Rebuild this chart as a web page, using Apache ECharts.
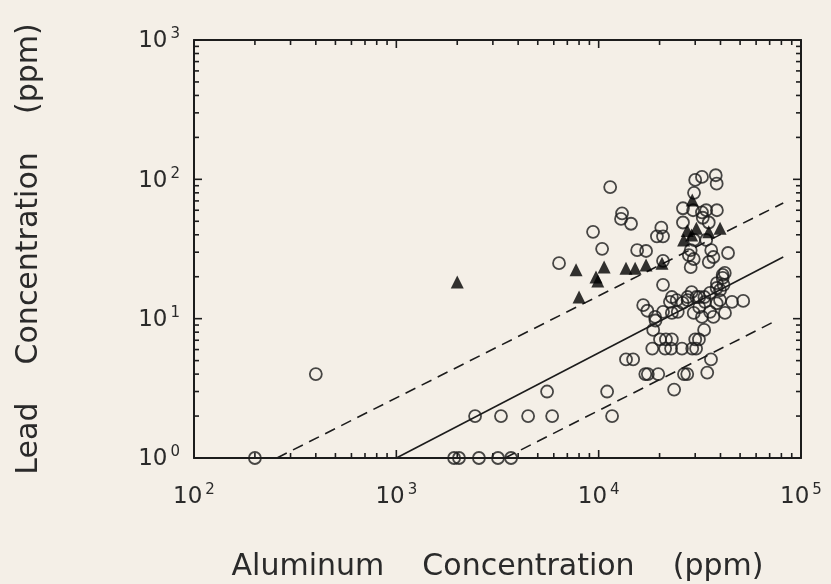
<!DOCTYPE html>
<html><head><meta charset="utf-8">
<script src="https://cdn.jsdelivr.net/npm/echarts@6/dist/echarts.min.js"></script>
<style>html,body{margin:0;padding:0;background:#f4efe7}#c{width:831px;height:584px}</style>
</head><body><div id="c"></div><script>
// Aluminum (ppm) vs Lead (ppm)
const openCircles = [
  [200,1],[400,4],[1930,1],[2040,1],[2560,1],[3180,1],[3690,1],
  [2450,2],[3290,2],[4480,2],[5890,2],[11650,2],
  [5560,3],[11010,3],[23600,3.1],
  [17000,4],[17500,4],[19700,4],[26400,4],[27400,4],[34400,4.1],
  [13650,5.1],[14800,5.1],[35900,5.1],
  [18400,6.1],[21300,6.1],[22800,6.1],[25800,6.1],[29000,6.1],[30300,6.1],
  [20100,7.1],[21500,7.1],[23000,7.1],[30000,7.1],[31300,7.1],
  [18600,8.3],[33200,8.3],[19100,9.7],
  [16600,12.5],[17400,11.4],[19000,10.3],[20800,11.2],[22500,13.2],[24300,13.6],
  [24600,11.2],[27500,13.6],[30400,14.3],[31400,12.1],[32400,10.3],[33500,13.2],
  [35500,11.2],[36900,10.3],[38300,12.9],[39800,13.6],[42100,11],[45600,13.2],
  [51800,13.4],[39800,16],[41400,17.5],[28800,15.5],[23000,11],[26000,13],[29500,11],
  [20800,17.5],[23000,14.3],[27500,14.3],[31400,14.3],[35500,15.3],[38300,16.6],
  [41000,19.6],[42000,21.3],[33300,14.3],
  [11400,88],[13050,57],[12900,52],[14450,48],[9380,42],[10400,31.7],[6370,25],
  [15500,31],[17150,30.6],[20400,45],[19400,39],[20800,39],[20800,26],
  [30000,99],[32400,104],[37900,107],[38300,93],[29600,80],
  [26100,62],[29300,60],[32400,58],[34000,60],[38400,60],
  [26100,49],[32700,53],[35000,49],
  [28500,31],[27900,28.6],[29500,26.8],[36000,31],[36900,27.7],[35000,25.5],
  [43600,29.6],[28500,23.4],[29600,36.7],[34000,36.7],[41000,20.6],[38400,18]
];
const filledTriangles = [
  [2000,18.3],[7730,22.4],[8000,14.3],[9700,19.9],[9900,18.6],[10640,23.5],
  [13650,23],[15140,23],[17150,24.3],[20560,25],
  [26300,36.7],[27400,43],[28800,39.8],[30400,44.6],[29000,71],[39800,44.6],[35000,42]
];
const fitLine = [[1000,1],[81700,27.7]];
const upperBand = [[257,1],[81700,67.7]];
const lowerBand = [[3440,1],[74500,9.6]];
const xRange = [100,100000];
const yRange = [1,1000];
const xDecades = [2,3,4];   // exponents of decades between x min and max
const yDecades = [0,1,2];
const mantissas = [1,2,3,4,5,6,7,8,9];

const FONT = "'DejaVu Sans',sans-serif";
const INK = '#1c1c1c';
const TXT = '#2a2a2a';

// tick values (value, isMajor)
const xTickData = [], yTickData = [];
xDecades.forEach(e => mantissas.forEach(m => xTickData.push([m*Math.pow(10,e), yRange[0], m===1?1:0])));
xTickData.push([xRange[1], yRange[0], 1]);
yDecades.forEach(e => mantissas.forEach(m => yTickData.push([xRange[0], m*Math.pow(10,e), m===1?1:0])));
yTickData.push([xRange[0], yRange[1], 1]);

function tickLine(x1,y1,x2,y2){
  return {type:'line',shape:{x1:x1,y1:y1,x2:x2,y2:y2},style:{stroke:INK,lineWidth:1.6}};
}
function renderXTick(params, api){
  const v = api.value(0), len = api.value(2) ? 8 : 5;
  const b = api.coord([v, yRange[0]]), t = api.coord([v, yRange[1]]);
  return {type:'group',children:[tickLine(b[0],b[1],b[0],b[1]-len), tickLine(t[0],t[1],t[0],t[1]+len)]};
}
function renderYTick(params, api){
  const v = api.value(1), len = api.value(2) ? 8 : 5;
  const l = api.coord([xRange[0], v]), r = api.coord([xRange[1], v]);
  return {type:'group',children:[tickLine(l[0],l[1],l[0]+len,l[1]), tickLine(r[0],r[1],r[0]-len,r[1])]};
}

function powLabel(v){ const e=Math.round(Math.log10(v)); return '{b|10}{s|'+e+'}'; }
const rich = {b:{fontSize:23,fontFamily:FONT,color:TXT,lineHeight:26,verticalAlign:'bottom'},
              s:{fontSize:15,fontFamily:FONT,color:TXT,lineHeight:26,verticalAlign:'top',padding:[0,0,0,3]}};
function axisCommon(extra){
  return Object.assign({
    type:'log', logBase:10,
    axisLine:{show:true,onZero:false,lineStyle:{color:INK,width:2}},
    axisTick:{show:false}, minorTick:{show:false},
    splitLine:{show:false}, minorSplitLine:{show:false}
  }, extra);
}
const chart = echarts.init(document.getElementById('c'));
chart.setOption({
  backgroundColor:'#f4efe7',
  animation:false,
  grid:{left:194,right:30,top:40,bottom:126,containLabel:false,outerBoundsMode:'none'},
  xAxis:[
    axisCommon({min:xRange[0],max:xRange[1],position:'bottom',
      name:'Aluminum    Concentration    (ppm)',nameLocation:'middle',nameGap:94,
      nameTextStyle:{fontSize:30,fontFamily:FONT,color:TXT},
      axisLabel:{margin:25,formatter:powLabel,rich:rich}}),
    axisCommon({min:xRange[0],max:xRange[1],position:'top',axisLabel:{show:false}})
  ],
  yAxis:[
    axisCommon({min:yRange[0],max:yRange[1],position:'left',
      name:'Lead    Concentration    (ppm)',nameLocation:'middle',nameGap:150,nameRotate:90,
      nameTextStyle:{fontSize:30,fontFamily:FONT,color:TXT},
      axisLabel:{margin:14,formatter:powLabel,rich:rich}}),
    axisCommon({min:yRange[0],max:yRange[1],position:'right',axisLabel:{show:false}})
  ],
  series:[
    {type:'custom',data:xTickData,renderItem:renderXTick,silent:true,z:5},
    {type:'custom',data:yTickData,renderItem:renderYTick,silent:true,z:5},
    {type:'line',data:upperBand,symbol:'none',lineStyle:{color:INK,width:1.6,type:[11,7]},z:2},
    {type:'line',data:fitLine,symbol:'none',lineStyle:{color:INK,width:1.6},z:2},
    {type:'line',data:lowerBand,symbol:'none',lineStyle:{color:INK,width:1.6,type:[11,7]},z:2},
    {type:'scatter',data:openCircles,symbol:'circle',symbolSize:12,
      itemStyle:{color:'rgba(0,0,0,0)',borderColor:INK,borderWidth:1.8},z:3},
    {type:'scatter',data:filledTriangles,symbol:'triangle',symbolSize:13,
      itemStyle:{color:'#000'},z:4}
  ]
});
</script></body></html>
